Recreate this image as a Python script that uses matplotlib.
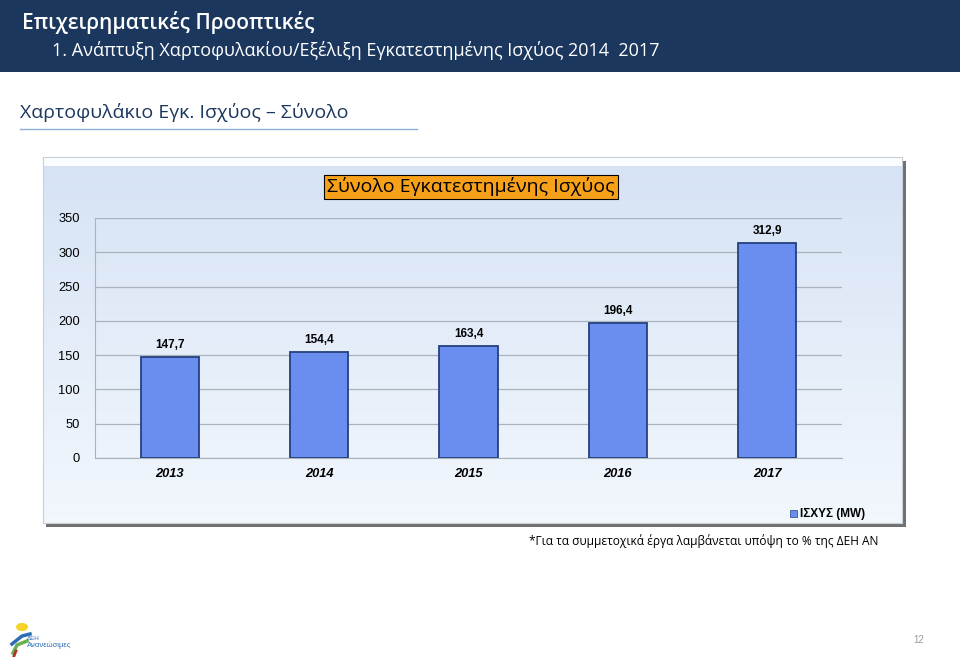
import numpy as np
from matplotlib import pyplot as plt
from matplotlib.patches import Rectangle, Circle

years = ["2013", "2014", "2015", "2016", "2017"]
capacity_mw = [147.7, 154.4, 163.4, 196.4, 312.9]
value_labels = ["147,7", "154,4", "163,4", "196,4", "312,9"]
y_ticks = [0, 50, 100, 150, 200, 250, 300, 350]

W, H = 960, 657


def fx(px):
    return px / W


def fy(py):
    return 1 - py / H


fig = plt.figure(figsize=(9.6, 6.57), dpi=100)
fig.patch.set_facecolor("white")

# header band
fig.patches.append(Rectangle((0, fy(72)), 1, 72 / H, transform=fig.transFigure,
                             facecolor="#1b375e", edgecolor="none", zorder=0))
fig.text(fx(22), fy(23), "Επιχειρηματικές Προοπτικές", color="white",
         fontsize=15, family="Open Sans", fontweight="semibold", va="center")
fig.text(fx(52), fy(50), "1. Ανάπτυξη Χαρτοφυλακίου/Εξέλιξη Εγκατεστημένης Ισχύος 2014  2017",
         color="white", fontsize=13, family="Open Sans", va="center")

# section heading
fig.text(fx(20), fy(112), "Χαρτοφυλάκιο Εγκ. Ισχύος – Σύνολο", color="#1b375e",
         fontsize=14, family="Open Sans", va="center")
fig.lines.append(plt.Line2D([fx(20), fx(417)], [fy(129), fy(129)], transform=fig.transFigure,
                            color="#8fb0d8", lw=1))

# chart frame: shadow, then gradient panel
fig.patches.append(Rectangle((fx(46), fy(527)), (906 - 46) / W, (527 - 161) / H,
                             transform=fig.transFigure, facecolor="#707070",
                             edgecolor="none", zorder=1))
bg = fig.add_axes([fx(43), fy(523), (902 - 43) / W, (523 - 157) / H], zorder=2)
bg.set_facecolor("#fbfcfe")
grad = np.linspace(0, 1, 256).reshape(-1, 1)
top_c = np.array([0.84, 0.89, 0.96])
bot_c = np.array([0.95, 0.97, 0.99])
img = top_c + (bot_c - top_c) * grad[..., None]
bg.imshow(img, aspect="auto", extent=[0, 1, 0, 0.975], origin="upper")
bg.set_xlim(0, 1)
bg.set_ylim(0, 1)
bg.set_xticks([])
bg.set_yticks([])
for s in bg.spines.values():
    s.set_color("#c8cfd8")
    s.set_linewidth(0.8)

# plot area
ax = fig.add_axes([fx(95), fy(458), (842 - 95) / W, (458 - 218) / H], zorder=3)
ax.set_facecolor("none")
x = np.arange(len(years))
bars = ax.bar(x, capacity_mw, width=0.39, color="#6a8ef0", edgecolor="#24407f",
              linewidth=1.3, zorder=3)
for b, lab in zip(bars, value_labels):
    ax.text(b.get_x() + b.get_width() / 2, b.get_height() + 9, lab, ha="center",
            va="bottom", fontsize=8.5, fontweight="bold", family="Liberation Sans")
ax.set_xlim(-0.5, len(years) - 0.5)
ax.set_ylim(0, 350)
ax.set_yticks(y_ticks)
ax.set_yticklabels([str(t) for t in y_ticks], fontsize=9.3, family="Liberation Sans")
ax.set_xticks(x)
ax.set_xticklabels(years, fontsize=9.3, fontweight="bold", fontstyle="italic",
                   family="Liberation Sans")
ax.tick_params(length=0, pad=7)
ax.tick_params(axis="y", pad=11)
ax.yaxis.grid(True, color="#a9b2bd", lw=0.9, zorder=0)
ax.set_axisbelow(True)
for side in ["top", "right"]:
    ax.spines[side].set_visible(False)
ax.spines["left"].set_color("#a9b2bd")
ax.spines["bottom"].set_color("#a9b2bd")

# chart title box
fig.text(fx(471), fy(187), "Σύνολο Εγκατεστημένης Ισχύος", fontsize=14,
         family="Open Sans", ha="center", va="center", zorder=5,
         bbox=dict(boxstyle="square,pad=0.15", facecolor="#f7a11a", edgecolor="black", lw=0.8))

# legend
fig.patches.append(Rectangle((fx(790), fy(517)), 7 / W, 7 / H, transform=fig.transFigure,
                             facecolor="#6a8ef0", edgecolor="#24407f", lw=0.5, zorder=5))
fig.text(fx(800), fy(514), "ΙΣΧΥΣ (MW)", fontsize=8.5, fontweight="bold",
         family="Liberation Sans", va="center", zorder=5)

# footnote
fig.text(fx(878), fy(541), "*Για τα συμμετοχικά έργα λαμβάνεται υπόψη το % της ΔΕΗ ΑΝ",
         fontsize=8.6, family="Open Sans", ha="right", va="center")

# page number
fig.text(fx(924), fy(640), "12", fontsize=7, color="#9a9a9a", ha="right", va="center",
         family="Liberation Sans")

# simple logo
fig.patches.append(Circle((fx(22), fy(627)), 6 / W, transform=fig.transFigure,
                          facecolor="#f5d328", edgecolor="none"))
fig.lines.append(plt.Line2D([fx(12), fx(22), fx(30)], [fy(644), fy(636), fy(634)],
                            transform=fig.transFigure, color="#2d6cb5", lw=2.5))
fig.lines.append(plt.Line2D([fx(13), fx(17), fx(27)], [fy(653), fy(645), fy(641)],
                            transform=fig.transFigure, color="#6ab04c", lw=2.5))
fig.lines.append(plt.Line2D([fx(14), fx(16)], [fy(656), fy(651)],
                            transform=fig.transFigure, color="#b0302b", lw=2))
fig.text(fx(27), fy(638), "ΔΕΗ", fontsize=4.5, color="#2d6cb5", family="Liberation Sans",
         va="center")
fig.text(fx(27), fy(645), "Ανανεώσιμες", fontsize=5.5, color="#2d6cb5",
         family="Liberation Sans", va="center")

fig.savefig("out.png", dpi=100)
